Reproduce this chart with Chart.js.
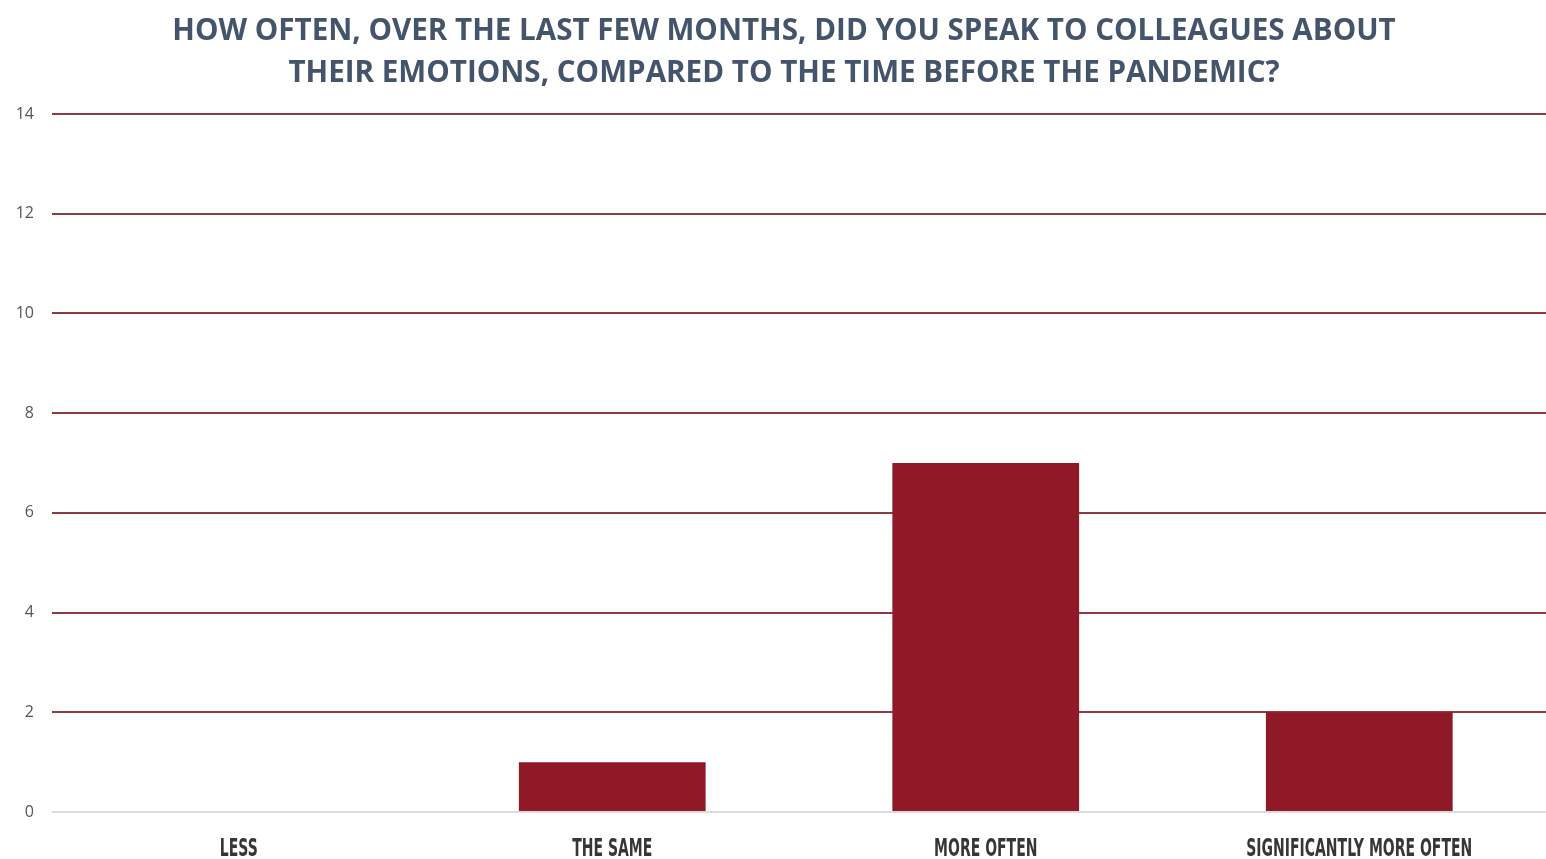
<!DOCTYPE html>
<html>
<head>
<meta charset="utf-8">
<script src="https://cdn.jsdelivr.net/npm/chart.js@4"></script>
<style>
  html, body { margin: 0; padding: 0; background: #ffffff; }
  #wrap { width: 1546px; height: 859px; position: relative; }
</style>
</head>
<body>
<div id="wrap"><canvas id="c"></canvas></div>
<script>
// Survey answers and counts
const categories = ['LESS', 'THE SAME', 'MORE OFTEN', 'SIGNIFICANTLY MORE OFTEN'];
const counts = [0, 1, 7, 2];
const yTicks = [0, 2, 4, 6, 8, 10, 12, 14];
const titleLines = [
  'HOW OFTEN, OVER THE LAST FEW MONTHS, DID YOU SPEAK TO COLLEAGUES ABOUT',
  'THEIR EMOTIONS, COMPARED TO THE TIME BEFORE THE PANDEMIC?'
];

const barColor = '#901927';
const gridColor = '#8d3a45';

// Centre the title a little to the right of the canvas middle.
const titleShift = {
  id: 'titleShift',
  afterLayout(chart) {
    if (chart.titleBlock) chart.titleBlock.left += 22;
  }
};

// Category labels are drawn in a tall, narrow style: a bold face squeezed horizontally.
const narrowLabels = {
  id: 'narrowLabels',
  afterDraw(chart) {
    const xScale = chart.scales.x;
    const ctx = chart.ctx;
    const squeeze = 0.56;
    ctx.save();
    ctx.fillStyle = '#363636';
    ctx.font = "bold 25px 'DejaVu Sans', sans-serif";
    ctx.textAlign = 'center';
    ctx.textBaseline = 'alphabetic';
    const baseY = xScale.top + 44;
    xScale.ticks.forEach((t, i) => {
      const x = xScale.getPixelForTick(i);
      ctx.save();
      ctx.translate(x, baseY);
      ctx.scale(squeeze, 1);
      ctx.fillText(chart.data.labels[t.value], 0, 0);
      ctx.restore();
    });
    ctx.restore();
  }
};

new Chart(document.getElementById('c'), {
  type: 'bar',
  data: {
    labels: categories,
    datasets: [{
      data: counts,
      backgroundColor: barColor,
      borderWidth: 0,
      barPercentage: 0.5,
      categoryPercentage: 1.0
    }]
  },
  plugins: [titleShift, narrowLabels],
  options: {
    responsive: true,
    maintainAspectRatio: false,
    animation: false,
    layout: { padding: { left: 0, right: 0, top: 6, bottom: 0 } },
    plugins: {
      legend: { display: false },
      tooltip: { enabled: false },
      title: {
        display: true,
        text: titleLines,
        color: '#44546a',
        font: { family: "'Open Sans', 'Noto Sans', sans-serif", size: 29.6, weight: 'bold', lineHeight: 1.42 },
        padding: { top: 5, bottom: 19 }
      }
    },
    scales: {
      x: {
        grid: { display: false, drawTicks: false },
        border: { display: false },
        afterFit: (axis) => { axis.height = 47; },
        ticks: {
          color: 'rgba(0,0,0,0)',
          padding: 10,
          font: { size: 24 }
        }
      },
      y: {
        min: 0,
        max: 14,
        afterBuildTicks: (axis) => { axis.ticks = yTicks.map(v => ({ value: v })); },
        afterFit: (axis) => { axis.width = 52; },
        grid: {
          drawTicks: false,
          lineWidth: 2,
          color: (ctx) => (ctx.tick && ctx.tick.value === 0) ? '#dcdcdc' : gridColor
        },
        border: { display: false },
        ticks: {
          color: '#555555',
          padding: 18,
          font: { family: "'Open Sans', 'Noto Sans', sans-serif", size: 16 }
        }
      }
    }
  }
});
</script>
</body>
</html>
